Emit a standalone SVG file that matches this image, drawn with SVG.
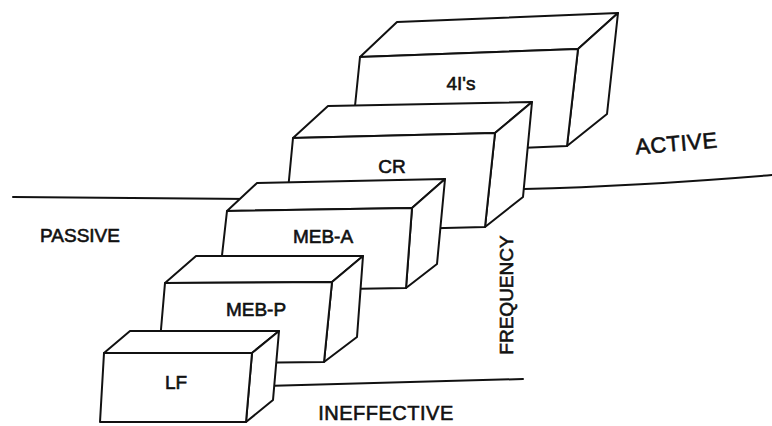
<svg xmlns="http://www.w3.org/2000/svg" width="772" height="426" viewBox="0 0 772 426">
<style>
.face{fill:#fff;stroke:#111;stroke-width:2;stroke-linejoin:round}
.ln{fill:none;stroke:#111;stroke-width:2;stroke-linecap:round}
.lbl{font-family:"Liberation Sans",Arial,sans-serif;font-size:19px;fill:#111;stroke:#111;stroke-width:0.6;text-anchor:middle}
</style>
<rect width="772" height="426" fill="#fff"/>
<g id="connectors">
<polyline class="ln" points="13,197 250,199"/>
<path class="ln" d="M524,189 Q640,186 772,175"/>
<polyline class="ln" points="265,386 523,379"/>
</g>
<g id="n-4is">
<polygon class="face" points="360,57 397,22 618,13 578,49"/>
<polygon class="face" points="578,49 618,13 607,114 567,146"/>
<polygon class="face" points="360,57 578,49 567,146 350,155"/>
<text class="lbl" x="461" y="90">4I's</text>
</g>
<g id="n-cr">
<polygon class="face" points="293,138 328,106 532,102 495,133"/>
<polygon class="face" points="495,133 532,102 523,197 485,227"/>
<polygon class="face" points="293,138 495,133 485,227 284,232"/>
<text class="lbl" x="392" y="173">CR</text>
</g>
<g id="n-meba">
<polygon class="face" points="227,211 257,183 445,179 412,208"/>
<polygon class="face" points="412,208 445,179 437,264 406,288"/>
<polygon class="face" points="227,211 412,208 406,288 218,291"/>
<text class="lbl" x="323" y="243">MEB-A</text>
</g>
<g id="n-mebp">
<polygon class="face" points="165,283 196,256 363,256 332,282"/>
<polygon class="face" points="332,282 363,256 357,337 324,362"/>
<polygon class="face" points="165,283 332,282 324,362 158,364"/>
<text class="lbl" x="256" y="316">MEB-P</text>
</g>
<g id="n-lf">
<polygon class="face" points="104,353 130,331 279,331 252,353"/>
<polygon class="face" points="252,353 279,331 273,400 246,422"/>
<polygon class="face" points="104,353 252,353 246,422 100,422"/>
<text class="lbl" x="176" y="389">LF</text>
</g>
<g id="labels">
<text class="lbl" x="80" y="242">PASSIVE</text>
<text class="lbl" x="677" y="151" style="font-size:22px;letter-spacing:0.5px" transform="rotate(-5 677 151)">ACTIVE</text>
<text class="lbl" x="386" y="420" style="font-size:20px;letter-spacing:0.5px">INEFFECTIVE</text>
<text class="lbl" x="0" y="0" transform="translate(513 295) rotate(-90)">FREQUENCY</text>
</g>
</svg>
